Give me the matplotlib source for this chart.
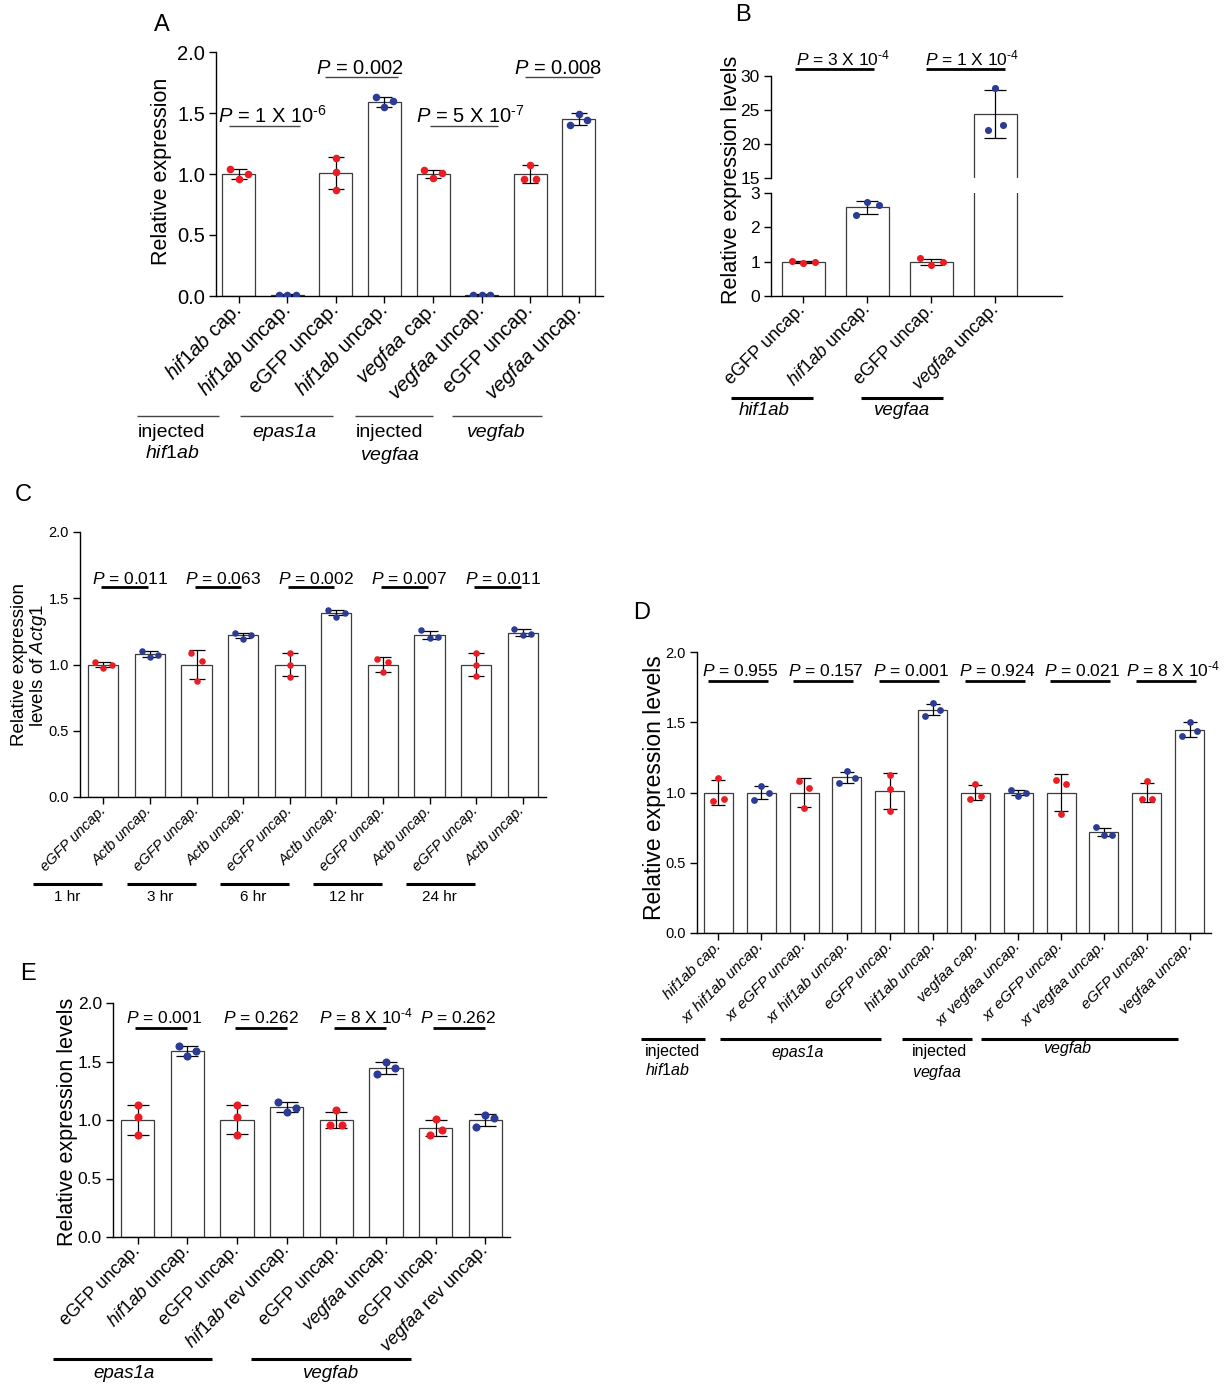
import numpy as np
import matplotlib
matplotlib.use('Agg')
import matplotlib.pyplot as plt
from matplotlib.transforms import blended_transform_factory

plt.rcParams['font.family'] = ['Liberation Sans', 'DejaVu Sans']
plt.rcParams['mathtext.fontset'] = 'custom'
plt.rcParams['mathtext.rm'] = 'Liberation Sans'
plt.rcParams['mathtext.it'] = 'Liberation Sans:italic'
plt.rcParams['mathtext.bf'] = 'Liberation Sans:bold'

W, H = 1226, 1385
RED = '#ec1c24'
BLUE = '#2c3b94'

# ---------------- data ----------------
# Panel A
a_labels = [r'$\it{hif1ab}$ cap.', r'$\it{hif1ab}$ uncap.', 'eGFP uncap.',
            r'$\it{hif1ab}$ uncap.', r'$\it{vegfaa}$ cap.', r'$\it{vegfaa}$ uncap.',
            'eGFP uncap.', r'$\it{vegfaa}$ uncap.']
a_means = [1.0, 0.01, 1.01, 1.59, 1.0, 0.01, 1.0, 1.45]
a_sd = [0.04, 0.003, 0.13, 0.04, 0.03, 0.003, 0.07, 0.05]
a_points = [[1.04, 0.96, 1.0], [0.01, 0.01, 0.01], [1.13, 1.02, 0.87],
            [1.63, 1.55, 1.6], [1.03, 0.97, 1.01], [0.01, 0.01, 0.01],
            [1.07, 0.96, 0.96], [1.40, 1.49, 1.44]]
a_pvals = [r'$P$ = 1 X 10$^{\text{-}6}$', r'$P$ = 0.002',
           r'$P$ = 5 X 10$^{\text{-}7}$', r'$P$ = 0.008']

# Panel B
b_labels = ['eGFP uncap.', r'$\it{hif1ab}$ uncap.', 'eGFP uncap.', r'$\it{vegfaa}$ uncap.']
b_means = [1.0, 2.58, 1.0, 24.4]
b_sd = [0.03, 0.19, 0.09, 3.5]
b_points = [[1.03, 0.97, 1.0], [2.35, 2.75, 2.65], [1.1, 0.91, 1.0], [28.3, 22.0, 22.8]]
b_pvals = [r'$P$ = 3 X 10$^{\text{-}4}$', r'$P$ = 1 X 10$^{\text{-}4}$']

# Panel C
c_labels = ['eGFP uncap.', 'Actb uncap.'] * 5
c_means = [1.0, 1.08, 1.0, 1.22, 1.0, 1.39, 1.0, 1.22, 1.0, 1.24]
c_sd = [0.02, 0.02, 0.11, 0.02, 0.09, 0.02, 0.055, 0.03, 0.09, 0.025]
c_points = [[1.02, 0.976, 1.0], [1.10, 1.06, 1.07], [1.09, 1.03, 0.875],
            [1.236, 1.19, 1.22], [1.09, 1.0, 0.908], [1.41, 1.36, 1.39],
            [1.04, 1.02, 0.94], [1.26, 1.2, 1.21], [1.09, 1.0, 0.91],
            [1.27, 1.22, 1.23]]
c_pvals = [r'$P$ = 0.011', r'$P$ = 0.063', r'$P$ = 0.002', r'$P$ = 0.007', r'$P$ = 0.011']
c_times = ['1 hr', '3 hr', '6 hr', '12 hr', '24 hr']

# Panel D
d_labels = ['hif1ab cap.', 'xr hif1ab uncap.', 'xr eGFP uncap.', 'xr hif1ab uncap.',
            'eGFP uncap.', 'hif1ab uncap.', 'vegfaa cap.', 'xr vegfaa uncap.',
            'xr eGFP uncap.', 'xr vegfaa uncap.', 'eGFP uncap.', 'vegfaa uncap.']
d_means = [1.0, 1.0, 1.0, 1.108, 1.008, 1.59, 1.0, 1.0, 1.0, 0.719, 1.0, 1.447]
d_sd = [0.087, 0.047, 0.1, 0.04, 0.128, 0.04, 0.055, 0.02, 0.133, 0.026, 0.07, 0.053]
d_points = [[1.103, 0.94, 0.956], [0.949, 1.044, 1.0], [1.08, 0.887, 1.03],
            [1.067, 1.15, 1.1], [1.122, 1.025, 0.87], [1.547, 1.637, 1.59],
            [1.063, 0.956, 0.977], [1.02, 0.977, 1.0], [1.09, 0.847, 1.06],
            [0.752, 0.7, 0.7], [1.08, 0.956, 0.956], [1.4, 1.5, 1.44]]
d_pvals = [r'$P$ = 0.955', r'$P$ = 0.157', r'$P$ = 0.001', r'$P$ = 0.924',
           r'$P$ = 0.021', r'$P$ = 8 X 10$^{\text{-}4}$']

# Panel E
e_labels = ['eGFP uncap.', r'$\it{hif1ab}$ uncap.', 'eGFP uncap.', r'$\it{hif1ab}$ rev uncap.',
            'eGFP uncap.', r'$\it{vegfaa}$ uncap.', 'eGFP uncap.', r'$\it{vegfaa}$ rev uncap.']
e_means = [1.0, 1.587, 1.003, 1.108, 1.0, 1.444, 0.932, 1.0]
e_sd = [0.125, 0.043, 0.125, 0.043, 0.071, 0.054, 0.071, 0.054]
e_points = [[1.125, 1.028, 0.869], [1.63, 1.544, 1.59], [1.125, 1.028, 0.869],
            [1.15, 1.065, 1.1], [1.083, 0.954, 0.954], [1.396, 1.5, 1.442],
            [0.869, 1.01, 0.917], [0.937, 1.04, 1.02]]
e_pvals = [r'$P$ = 0.001', r'$P$ = 0.262', r'$P$ = 8 X 10$^{\text{-}4}$', r'$P$ = 0.262']

fig = plt.figure(figsize=(W / 100, H / 100), dpi=100)


def make_axes(l, r, t, b):
    return fig.add_axes([l / W, 1 - b / H, (r - l) / W, (b - t) / H])


def fy(ypx):
    return 1 - ypx / H


def style(ax, fs):
    for s in ['top', 'right']:
        ax.spines[s].set_visible(False)
    for s in ['left', 'bottom']:
        ax.spines[s].set_linewidth(1.0)
    ax.tick_params(direction='out', length=5, width=1.0, labelsize=fs, pad=3)


def spread(vals, tol, d2=0.12, d3=0.18):
    """ Horizontal offsets for points that would overlap. """
    vals = np.asarray(vals)
    order = np.argsort(vals, kind='stable')
    groups = [[order[0]]]
    for i, j in zip(order[:-1], order[1:]):
        if vals[j] - vals[i] < tol:
            groups[-1].append(j)
        else:
            groups.append([j])
    offs = np.zeros(len(vals))
    for g in groups:
        g = sorted(g)
        if len(g) == 2:
            offs[g] = [-d2, d2]
        elif len(g) == 3:
            offs[g] = [-d3, 0, d3]
    return offs


def draw_bars(ax, means, sd, points, tol, width, cap, ms):
    x = np.arange(len(means))
    ax.bar(x, means, width, color='white', edgecolor='#3c3c3c', linewidth=0.9, zorder=1)
    ax.errorbar(x, means, yerr=sd, fmt='none', ecolor='black', elinewidth=0.9,
                capsize=cap, capthick=0.9, zorder=2)
    for i, pts in enumerate(points):
        col = RED if i % 2 == 0 else BLUE
        ax.scatter(i + spread(pts, tol), pts, s=ms, color=col, zorder=3, linewidths=0)


def set_xlabels(ax, labels, fs, italic=False):
    ax.set_xticks(np.arange(len(labels)))
    ax.set_xticklabels(labels, rotation=45, ha='right', va='center',
                       rotation_mode='anchor', fontsize=fs,
                       fontstyle='italic' if italic else 'normal')


def p_bar(ax, x0, x1, y, xt, s, fs, lw, color='black', off=2.5):
    ax.plot([x0, x1], [y, y], color=color, lw=lw, clip_on=False, solid_capstyle='butt')
    ax.annotate(s, xy=(xt, y), xytext=(0, off), textcoords='offset points',
                ha='center', va='baseline', fontsize=fs, annotation_clip=False)


def group_line(ax, x0, x1, ypx, lw, color='black'):
    tr = blended_transform_factory(ax.transData, fig.transFigure)
    ax.plot([x0, x1], [fy(ypx), fy(ypx)], transform=tr, color=color, lw=lw,
            clip_on=False, solid_capstyle='butt')


def group_text(ax, x, ypx, s, fs, ha='center', va='center', style='normal', ls=1.1):
    tr = blended_transform_factory(ax.transData, fig.transFigure)
    ax.text(x, fy(ypx), s, transform=tr, fontsize=fs, ha=ha, va=va,
            fontstyle=style, linespacing=ls, multialignment=ha)


# ---------------- Panel A ----------------
ax = make_axes(216, 603, 52, 296)
style(ax, 14.5)
draw_bars(ax, a_means, a_sd, a_points, tol=0.07, width=0.68, cap=6, ms=30)
ax.set_ylim(0, 2.0)
ax.set_yticks([0, 0.5, 1.0, 1.5, 2.0])
ax.set_yticklabels(['0.0', '0.5', '1.0', '1.5', '2.0'])
set_xlabels(ax, a_labels, 14.5)
a_spans = [(-0.2, 1.26), (1.77, 3.28), (3.94, 5.34), (5.9, 7.3)]
a_heights = [1.39, 1.795, 1.39, 1.795]
a_text_x = [0.69, 2.5, 4.76, 6.58]
for (x0, x1), y, xt, s in zip(a_spans, a_heights, a_text_x, a_pvals):
    p_bar(ax, x0, x1, y, xt, s, 14.5, 1.0, color='#444444', off=2.5)
for x0, x1 in [(-2.1, -0.41), (0.02, 1.94), (2.39, 4.0), (4.39, 6.25)]:
    group_line(ax, x0, x1, 416, 1.0, color='#444444')
group_text(ax, -1.38, 424, 'injected\n$\\it{hif1ab}$', 14, va='top', ls=1.3)
group_text(ax, 0.93, 424, 'epas1a', 14, va='top', style='italic')
group_text(ax, 3.11, 424, 'injected\n$\\it{vegfaa}$', 14, va='top', ls=1.3)
group_text(ax, 5.3, 424, 'vegfab', 14, va='top', style='italic')
ax.set_xlim(-0.47, 7.5)
fig.text(162 / W, fy(171), 'Relative expression', rotation=90, ha='center',
         va='center', fontsize=15.5)
fig.text(162 / W, fy(25), 'A', ha='center', va='center', fontsize=17)

# ---------------- Panel B ----------------
axt = make_axes(771, 1062, 76, 178)
axb = make_axes(771, 1062, 193, 296)
for axx, tol in [(axt, 1.3), (axb, 0.32)]:
    style(axx, 12.5)
    draw_bars(axx, b_means, b_sd, b_points, tol=tol, width=0.67, cap=8, ms=26)
    axx.set_xlim(-0.5, 4.04)
axt.set_ylim(15, 30)
axt.set_yticks([15, 20, 25, 30])
axt.spines['bottom'].set_visible(False)
axt.tick_params(axis='x', bottom=False, labelbottom=False)
axb.set_ylim(0, 3)
axb.set_yticks([0, 1, 2, 3])
set_xlabels(axb, b_labels, 13)
for (x0, x1), xt, s in zip([(-0.125, 1.11), (1.92, 3.15)], [0.62, 2.64], b_pvals):
    p_bar(axt, x0, x1, 31.03, xt, s, 12.5, 2.0, off=2.5)
group_line(axb, -1.125, 0.15, 398, 2.2)
group_line(axb, 0.9, 2.18, 398, 2.2)
group_text(axb, -0.61, 402, 'hif1ab', 13.5, va='top', style='italic')
group_text(axb, 1.54, 402, 'vegfaa', 13.5, va='top', style='italic')
fig.text(732 / W, fy(180), 'Relative expression levels', rotation=90, ha='center',
         va='center', fontsize=15.5)
fig.text(743 / W, fy(15), 'B', ha='center', va='center', fontsize=17)

# ---------------- Panel C ----------------
ax = make_axes(80, 546, 532, 797)
style(ax, 10.5)
draw_bars(ax, c_means, c_sd, c_points, tol=0.065, width=0.65, cap=6, ms=22)
ax.set_ylim(0, 2.0)
ax.set_yticks([0, 0.5, 1.0, 1.5, 2.0])
ax.set_yticklabels(['0.0', '0.5', '1.0', '1.5', '2.0'])
set_xlabels(ax, c_labels, 10.5, italic=True)
for k, s in enumerate(c_pvals):
    p_bar(ax, 2 * k - 0.04, 2 * k + 0.96, 1.585, 2 * k + 0.57, s, 12.5, 2.0, off=2.5)
for k, s in enumerate(c_times):
    group_line(ax, 2 * k - 1.5, 2 * k - 0.02, 884, 2.2)
    group_text(ax, 2 * k - 0.78, 897, s, 11)
ax.set_xlim(-0.5, 9.5)
fig.text(30 / W, fy(665), 'Relative expression\nlevels of $\\it{Actg1}$', rotation=90,
         ha='center', va='center', fontsize=13.5, linespacing=1.05)
fig.text(23 / W, fy(495), 'C', ha='center', va='center', fontsize=17)

# ---------------- Panel D ----------------
ax = make_axes(697, 1211, 652, 933)
style(ax, 10.5)
draw_bars(ax, d_means, d_sd, d_points, tol=0.064, width=0.68, cap=5, ms=24)
ax.set_ylim(0, 2.0)
ax.set_yticks([0, 0.5, 1.0, 1.5, 2.0])
ax.set_yticklabels(['0.0', '0.5', '1.0', '1.5', '2.0'])
set_xlabels(ax, d_labels, 11, italic=True)
for k, s in enumerate(d_pvals):
    xt = 2 * k + 0.5 if k < 5 else 2 * k + 0.62
    p_bar(ax, 2 * k - 0.25, 2 * k + 1.15, 1.796, xt, s, 12.5, 2.0, off=3)
for x0, x1 in [(-1.8, -0.32), (0.03, 3.8), (4.28, 5.93), (6.13, 10.73)]:
    group_line(ax, x0, x1, 1039, 2.2)
group_text(ax, -1.72, 1044, 'injected\n$\\it{hif1ab}$', 11.5, ha='left', va='top', ls=1.25)
group_text(ax, 1.85, 1052, 'epas1a', 11.5, style='italic')
group_text(ax, 4.52, 1044, 'injected\n$\\it{vegfaa}$', 11.5, ha='left', va='top', ls=1.25)
group_text(ax, 8.13, 1048, 'vegfab', 11.5, style='italic')
ax.set_xlim(-0.5, 11.5)
fig.text(654 / W, fy(788), 'Relative expression levels', rotation=90, ha='center',
         va='center', fontsize=16.5)
fig.text(642 / W, fy(613), 'D', ha='center', va='center', fontsize=17)

# ---------------- Panel E ----------------
ax = make_axes(113, 510, 1003, 1237)
style(ax, 12.5)
draw_bars(ax, e_means, e_sd, e_points, tol=0.09, width=0.67, cap=8, ms=34)
ax.set_ylim(0, 2.0)
ax.set_yticks([0, 0.5, 1.0, 1.5, 2.0])
ax.set_yticklabels(['0.0', '0.5', '1.0', '1.5', '2.0'])
set_xlabels(ax, e_labels, 13)
e_text_x = [0.53, 2.49, 4.6, 6.45]
for k, s in enumerate(e_pvals):
    p_bar(ax, 2 * k - 0.05, 2 * k + 1.0, 1.786, e_text_x[k], s, 12.5, 2.0, off=3.5)
group_line(ax, -1.71, 1.5, 1359, 2.2)
group_line(ax, 2.29, 5.5, 1359, 2.2)
group_text(ax, -0.28, 1374, 'epas1a', 13.5, style='italic')
group_text(ax, 3.89, 1374, 'vegfab', 13.5, style='italic')
ax.set_xlim(-0.5, 7.5)
fig.text(68 / W, fy(1122), 'Relative expression levels', rotation=90, ha='center',
         va='center', fontsize=15.5)
fig.text(28 / W, fy(974), 'E', ha='center', va='center', fontsize=17)

fig.savefig('out.png', dpi=100)
